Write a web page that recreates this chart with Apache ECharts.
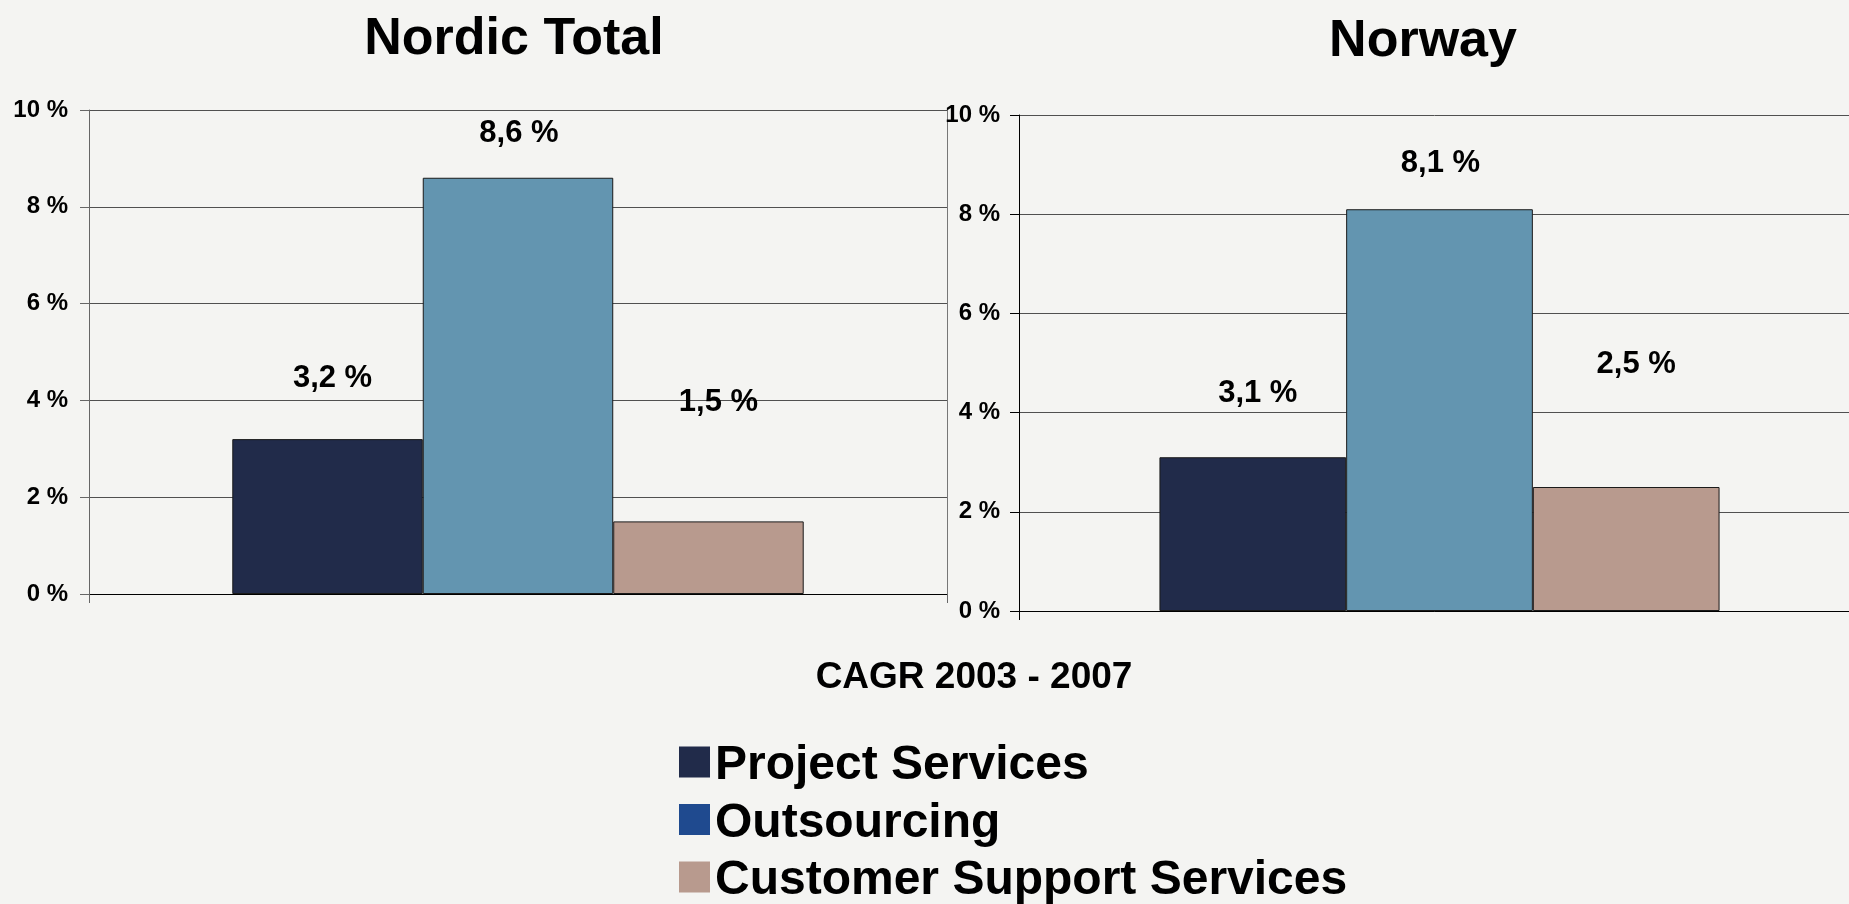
<!DOCTYPE html>
<html>
<head>
<meta charset="utf-8">
<script src="https://cdn.jsdelivr.net/npm/echarts@6/dist/echarts.min.js"></script>
<style>
  html, body { margin: 0; padding: 0; background: #f4f4f2; }
  #chart { width: 1849px; height: 904px; }
</style>
</head>
<body>
<div id="chart"></div>
<script>
// ---- data ----
const regions = ['Nordic Total', 'Norway'];
const seriesNames = ['Project Services', 'Outsourcing', 'Customer Support Services'];
const projectServices = [3.2, 3.1];
const outsourcing = [8.6, 8.1];
const customerSupport = [1.5, 2.5];
const yTicks = [0, 2, 4, 6, 8, 10];
const subtitle = 'CAGR 2003 - 2007';

// ---- styles ----
const FONT = "'Liberation Sans', Arial, sans-serif";
const barColors = ['#212b4a', '#6395b0', '#b89a8e'];
const legendColors = ['#212b4a', '#1f4a8f', '#b89a8e'];
// label placement (distance above bar top, horizontal shift) per chart / series
const labelDistance = [[45, 29, 103], [48, 30, 107]];
const labelShift = [[5, 1, 10], [5, 1, 10]];

const grids = [
  { left: 89, top: 110, width: 858, height: 484 },
  { left: 1019, top: 115, width: 841, height: 496 }
];
const yAxisLineColors = ['#666', '#000'];
const labelMargins = [21, 19];
const legendTop = 742, legendPitch = 57.5;

const values = [projectServices, outsourcing, customerSupport];

const chart = echarts.init(document.getElementById('chart'));

const xAxes = regions.map((r, i) => ({
  type: 'category', gridIndex: i, data: [r],
  axisLabel: { show: false },
  axisLine: { lineStyle: { color: '#000', width: 1 } },
  axisTick: { show: true, length: 9, lineStyle: { color: yAxisLineColors[i] } },
  splitLine: { show: true, lineStyle: { color: '#777', width: 1 } }
}));

const yAxes = regions.map((r, i) => ({
  type: 'value', gridIndex: i, min: yTicks[0], max: yTicks[yTicks.length - 1], interval: 2,
  axisLine: { show: true, lineStyle: { color: yAxisLineColors[i], width: 1 } },
  axisTick: { show: true, length: 9, lineStyle: { color: yAxisLineColors[i] } },
  axisLabel: {
    formatter: '{value} %', color: '#000', fontSize: 24, fontWeight: 'bold',
    fontFamily: FONT, margin: labelMargins[i]
  },
  splitLine: { show: true, lineStyle: { color: '#505050', width: 1 } }
}));

const series = [];
regions.forEach((r, ci) => {
  seriesNames.forEach((name, si) => {
    series.push({
      type: 'bar', name: name, xAxisIndex: ci, yAxisIndex: ci,
      barGap: '0%', barCategoryGap: '33.4%',
      itemStyle: { color: barColors[si], borderColor: '#1a1a1a', borderWidth: 1 },
      data: [{
        value: values[si][ci],
        label: {
          show: true, position: 'top',
          distance: labelDistance[ci][si],
          offset: [labelShift[ci][si], 0],
          formatter: p => String(p.value).replace('.', ',') + ' %',
          color: '#000', fontSize: 31, fontWeight: 'bold', fontFamily: FONT
        }
      }]
    });
  });
});

const legends = seriesNames.map((n, i) => ({
  orient: 'vertical', left: 679, top: legendTop + i * legendPitch, padding: 0,
  itemWidth: 31, itemHeight: 39,
  // square swatch sitting in the upper part of its slot so text lines up with its bottom
  icon: 'path://M0 0H31V31H0Z M0 39L31 39',
  data: [{ name: n, itemStyle: { color: legendColors[i], borderWidth: 0 } }],
  textStyle: { color: '#000', fontSize: 48, fontWeight: 'bold', fontFamily: FONT }
}));

chart.setOption({
  backgroundColor: '#f4f4f2',
  animation: false,
  grid: grids.map(g => Object.assign({ containLabel: false, outerBoundsMode: 'none' }, g)),
  xAxis: xAxes,
  yAxis: yAxes,
  series: series,
  legend: legends,
  graphic: [
    { type: 'text', x: 514, y: 40, style: { text: regions[0], fill: '#000', font: 'bold 52px ' + FONT, textAlign: 'center', textVerticalAlign: 'middle' } },
    { type: 'text', x: 1423, y: 42, style: { text: regions[1], fill: '#000', font: 'bold 52px ' + FONT, textAlign: 'center', textVerticalAlign: 'middle' } },
    { type: 'text', x: 974, y: 678, style: { text: subtitle, fill: '#000', font: 'bold 37px ' + FONT, textAlign: 'center', textVerticalAlign: 'middle' } }
  ]
});
</script>
</body>
</html>
